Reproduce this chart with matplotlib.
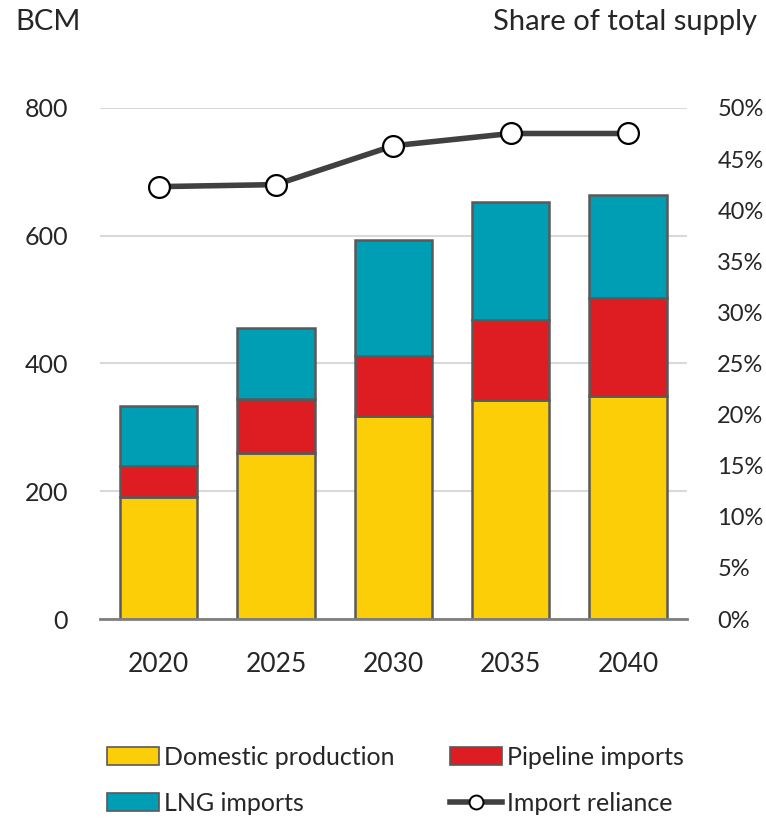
import matplotlib.pyplot as plt
from matplotlib.patches import Patch
from matplotlib.lines import Line2D

plt.rcParams['font.family'] = ['Lato', 'DejaVu Sans']

years = ["2020", "2025", "2030", "2035", "2040"]
domestic = [191, 260, 318, 343, 349]
pipeline = [49, 84, 94, 125, 153]
lng = [93, 111, 181, 185, 162]
reliance = [42.3, 42.5, 46.3, 47.5, 47.5]

c_dom, c_pipe, c_lng = "#FBCE07", "#DD1D21", "#009EB4"
edge = "#595959"
txt = "#262626"

fig = plt.figure(figsize=(7.66, 8.19), dpi=100)
ax = fig.add_axes([0.1305, 0.2442, 0.766, 0.624])
x = range(len(years))
w = 0.66
b2 = [d + p for d, p in zip(domestic, pipeline)]
ax.bar(x, domestic, w, color=c_dom, edgecolor=edge, linewidth=1.8, zorder=3)
ax.bar(x, pipeline, w, bottom=domestic, color=c_pipe, edgecolor=edge, linewidth=1.8, zorder=3)
ax.bar(x, lng, w, bottom=b2, color=c_lng, edgecolor=edge, linewidth=1.8, zorder=3)

ax.set_xlim(-0.5, 4.5)
ax.set_ylim(0, 800)
ax.set_yticks([0, 200, 400, 600, 800])
ax.grid(axis='y', color="#D9D9D9", linewidth=1.5, zorder=0)
ax.set_xticks(list(x))
ax.set_xticklabels(years)
for s in ["top", "left", "right"]:
    ax.spines[s].set_visible(False)
ax.spines["bottom"].set_color("#7F7F7F")
ax.spines["bottom"].set_linewidth(2)
ax.spines["bottom"].set_zorder(4)
ax.tick_params(axis='y', length=0, pad=23, labelsize=18, labelcolor=txt)
ax.tick_params(axis='x', length=0, pad=24, labelsize=19, labelcolor=txt)

ax2 = ax.twinx()
ax2.set_ylim(0, 50)
ax2.set_yticks(range(0, 55, 5))
ax2.set_yticklabels([f"{v}%" for v in range(0, 55, 5)])
ax2.tick_params(axis='y', length=0, pad=22, labelsize=17, labelcolor=txt)
for s in ax2.spines.values():
    s.set_visible(False)
ax2.plot(list(x), reliance, color="#404040", linewidth=4, marker='o', markersize=15,
         markerfacecolor="white", markeredgecolor="black", markeredgewidth=1.6, zorder=5)

fig.text(0.02, 0.973, "BCM", fontsize=21, color=txt, ha='left', va='center')
fig.text(0.988, 0.973, "Share of total supply", fontsize=21, color=txt, ha='right', va='center')

handles = [
    Patch(facecolor=c_dom, edgecolor=edge, linewidth=1.2),
    Patch(facecolor=c_lng, edgecolor=edge, linewidth=1.2),
    Patch(facecolor=c_pipe, edgecolor=edge, linewidth=1.2),
    Line2D([0], [0], color="#404040", linewidth=4, marker='o', markersize=10,
           markerfacecolor="white", markeredgecolor="black", markeredgewidth=1.4),
]
labels = ["Domestic production", "LNG imports", "Pipeline imports", "Import reliance"]
fig.legend(handles, labels, ncol=2, loc='lower left', bbox_to_anchor=(0.11, -0.022),
           frameon=False, fontsize=18, handlelength=2.1, handleheight=0.75,
           handletextpad=0.2, columnspacing=2.2, labelspacing=0.92, labelcolor=txt)

fig.savefig("out.png", dpi=100)
